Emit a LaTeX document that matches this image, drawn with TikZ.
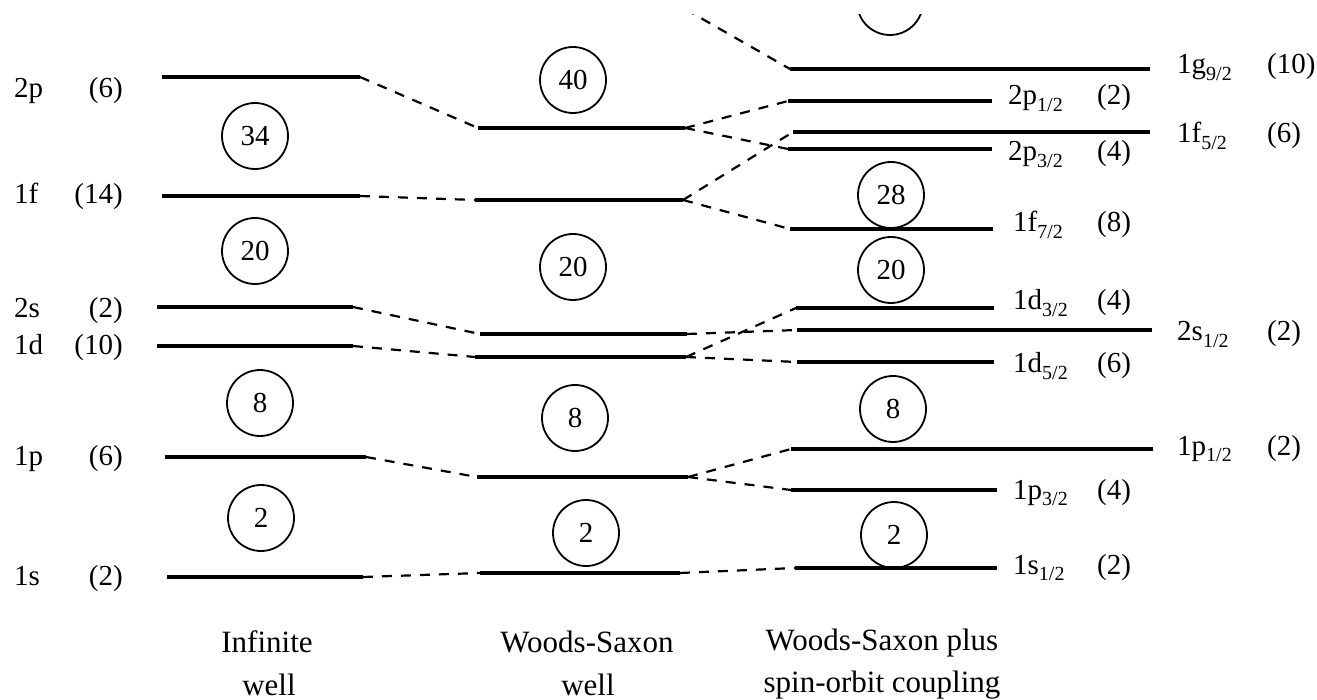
\documentclass[tikz,border=0pt]{standalone}
\usepackage{fontspec}
\setmainfont{Liberation Serif}
\newcommand\lvfont{\fontsize{29}{33}\selectfont}
\newcommand\capfont{\fontsize{31}{35}\selectfont}
\newcommand\jsub[1]{\raisebox{-0.24em}{\fontsize{20}{21}\selectfont #1}}
\tikzset{
  lvl/.style={line width=3.5pt},
  link/.style={line width=2.2pt, dash pattern=on 10pt off 9pt},
  magic/.style={circle, draw, line width=1.8pt, minimum size=66pt, inner sep=0pt, font=\lvfont},
  orb/.style={anchor=base west, inner sep=0pt, font=\lvfont},
  deg/.style={anchor=base west, inner sep=0pt, font=\lvfont},
  degr/.style={anchor=base east, inner sep=0pt, font=\lvfont},
  colcap/.style={anchor=base, inner sep=0pt, font=\capfont},
}
\begin{document}
\begin{tikzpicture}[x=1pt, y=-1pt]
\useasboundingbox (0,0) rectangle (1317,700);

% energy levels: name / left x / right x / y
\foreach \n/\xl/\xr/\y in {
    a2p/162/360/77, a1f/162/360/196, a2s/157/353/307,
    a1d/157/353/346, a1p/165/366/457, a1s/167/363/577,
    b2p/478/685/128, b1f/475/683/200, b2s/480/687/334,
    b1d/475/686/357, b1p/477/688/477, b1s/480/680/573,
    c1g9/790/1150/69, c2p1/788/992/101, c1f5/793/1150/132,
    c2p3/788/992/149, c1f7/790/993/229, c1d3/796/994/308,
    c2s1/797/1152/330, c1d5/797/994/362, c1p1/791/1153/449,
    c1p3/791/997/490, c1s1/795/997/568} {
  \coordinate (\n-L) at (\xl,\y);
  \coordinate (\n-R) at (\xr,\y);
  \draw[lvl] (\n-L) -- (\n-R);
}

% infinite well -> Woods-Saxon well
\foreach \s in {2p,1f,2s,1d,1p,1s}
  \draw[link] (a\s-R) -- (b\s-L);

% Woods-Saxon well -> spin-orbit splitting
\draw[link] (b2p-R) -- (c2p1-L);
\draw[link] (b2p-R) -- (c2p3-L);
\draw[link] (b1f-R) -- (c1f5-L);
\draw[link] (b1f-R) -- (c1f7-L);
\draw[link] (b2s-R) -- (c2s1-L);
\draw[link] (b1d-R) -- (c1d3-L);
\draw[link] (b1d-R) -- (c1d5-L);
\draw[link] (b1p-R) -- (c1p1-L);
\draw[link] (b1p-R) -- (c1p3-L);
\draw[link] (b1s-R) -- (c1s1-L);

% items running off the top edge
\begin{scope}
  \clip (0,15) rectangle (1317,700);
  \coordinate (b1g-R) at (685,9);
  \draw[link] (b1g-R) -- (c1g9-L);
  \node[magic] (m50) at (890,2) {};
\end{scope}

% magic numbers
\node[magic] (m34a) at (255,136) {34};
\node[magic] (m20a) at (255,251) {20};
\node[magic] (m8a)  at (260,403) {8};
\node[magic] (m2a)  at (261,518) {2};
\node[magic] (m40b) at (573,80)  {40};
\node[magic] (m20b) at (573,267) {20};
\node[magic] (m8b)  at (575,418) {8};
\node[magic] (m2b)  at (586,533) {2};
\node[magic] (m28c) at (891,195) {28};
\node[magic] (m20c) at (891,270) {20};
\node[magic] (m8c)  at (893,409) {8};
\node[magic] (m2c)  at (894,535) {2};

% labels of the infinite well
\foreach \t/\d/\y in {2p/(6)/98, 1f/(14)/204, 2s/(2)/318, 1d/(10)/355, 1p/(6)/465, 1s/(2)/585} {
  \node[orb] (ln\t) at (14,\y) {\t};
  \node[degr] (ld\t) at (123,\y) {\d};
}

% labels of the spin-orbit levels
\foreach \t/\j/\d/\x/\xd/\y in {
    1g/9\slash2/(10)/1177/1267/74,
    2p/1\slash2/(2)/1008/1097/105,
    1f/5\slash2/(6)/1177/1267/143,
    2p/3\slash2/(4)/1008/1097/161,
    1f/7\slash2/(8)/1013/1097/232,
    1d/3\slash2/(4)/1013/1097/310,
    2s/1\slash2/(2)/1177/1267/341,
    1d/5\slash2/(6)/1013/1097/373,
    1p/1\slash2/(2)/1177/1267/455,
    1p/3\slash2/(4)/1013/1097/499,
    1s/1\slash2/(2)/1013/1097/574} {
  \node[orb] (rn\t\y) at (\x,\y) {\t\jsub{\j}};
  \node[deg] (rd\t\y) at (\xd,\y) {\d};
}

% column captions
\node[colcap] (capa1) at (267,652) {Infinite};
\node[colcap] (capa2) at (269,695) {well};
\node[colcap] (capb1) at (587,652) {Woods-Saxon};
\node[colcap] (capb2) at (588,695) {well};
\node[colcap] (capc1) at (882,650) {Woods-Saxon plus};
\node[colcap] (capc2) at (882,692) {spin-orbit coupling};
\end{tikzpicture}
\end{document}
